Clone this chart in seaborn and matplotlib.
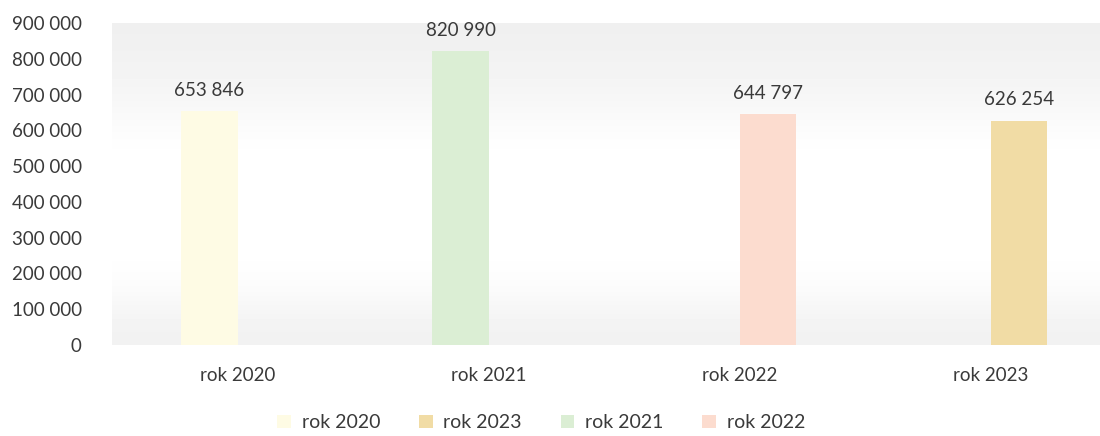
import numpy as np
import pandas as pd
import matplotlib
matplotlib.use("Agg")
import matplotlib.pyplot as plt
import matplotlib.patches as mpatches
import seaborn as sns

# data
categories = ["rok 2020", "rok 2021", "rok 2022", "rok 2023"]
values = [653846, 820990, 644797, 626254]
# cluster slot each bar sits in (as in the original Excel layout)
slots = ["s1", "s1", "s2", "s2"]
slot_order = ["s0", "s1", "s2", "s3"]
bar_colours = ["#fefbe4", "#dbeed4", "#fcdccf", "#f1dca5"]
legend_order = ["rok 2020", "rok 2023", "rok 2021", "rok 2022"]
y_ticks = [0, 100000, 200000, 300000, 400000, 500000, 600000, 700000, 800000, 900000]

TEXT = "#3a3a3a"
FS = 13.5


def fmt(v):
    return f"{int(v):,}".replace(",", " ")


df = pd.DataFrame({"rok": categories, "wartosc": values, "slot": slots})
colour_of = dict(zip(categories, bar_colours))

sns.set_theme(style="white")
plt.rcParams["font.family"] = ["Lato", "DejaVu Sans"]

fig = plt.figure(figsize=(11, 4.36), dpi=100)
ax = fig.add_axes([0.102, 0.209, 0.913, 0.738])

# light scanned-paper shading behind the plot area
shade = np.array([0.94, 0.955, 0.975, 1.0, 1.0, 1.0, 1.0, 0.985, 0.945]).reshape(-1, 1)
ax.imshow(shade, cmap="gray", vmin=0, vmax=1, aspect="auto",
          extent=[0, 1, 0, 1], transform=ax.transAxes, zorder=0,
          interpolation="bicubic")

sns.barplot(data=df, x="rok", y="wartosc", hue="slot", hue_order=slot_order,
            order=categories, width=0.9, dodge=True, legend=False,
            palette=["#ffffff"] * 4, saturation=1, ax=ax, zorder=2)

# recolour each bar by its year
value_colour = dict(zip(values, bar_colours))
for bar in ax.patches:
    h = bar.get_height()
    if h in value_colour:
        bar.set_facecolor(value_colour[h])
        bar.set_edgecolor("none")

for cont in ax.containers:
    ax.bar_label(cont, labels=[fmt(v) for v in cont.datavalues],
                 padding=9, fontsize=FS, color=TEXT)

ax.set_ylim(0, 900000)
ax.set_xlim(-0.5, 3.5)
ax.set_yticks(y_ticks)
ax.set_yticklabels([fmt(t) for t in y_ticks], fontsize=FS, color=TEXT)
ax.tick_params(axis="x", labelsize=FS, colors=TEXT, pad=16, length=0)
ax.tick_params(axis="y", pad=22, length=0)
ax.set_xlabel("")
ax.set_ylabel("")
sns.despine(ax=ax, left=True, bottom=True)

handles = [mpatches.Patch(facecolor=colour_of[n], edgecolor="none", label=n)
           for n in legend_order]
fig.legend(handles=handles, loc="center", bbox_to_anchor=(0.492, 0.03),
           ncol=4, frameon=False, fontsize=FS + 0.5, handlelength=0.7,
           handleheight=0.7, columnspacing=2.0, handletextpad=0.55,
           labelcolor=TEXT)

plt.savefig("out.png", dpi=100)
plt.close()
